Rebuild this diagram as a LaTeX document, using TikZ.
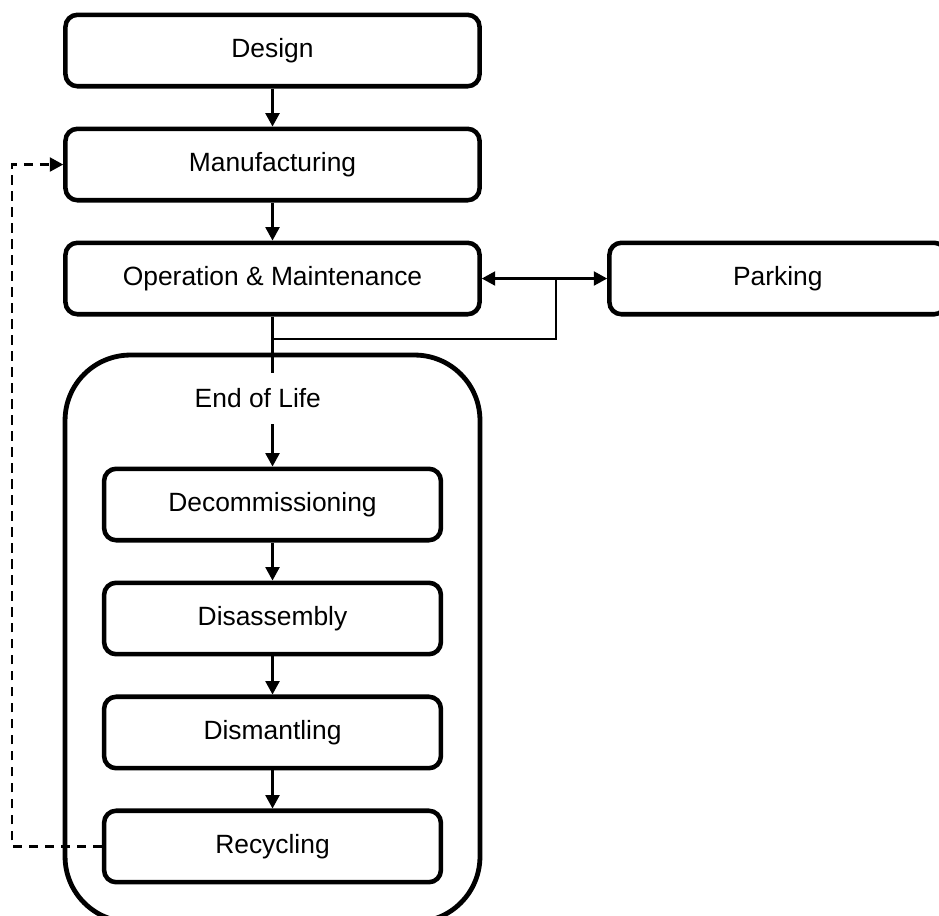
\documentclass[tikz,border=0pt]{standalone}
\usepackage{fontspec}
\setmainfont{Liberation Sans}
\usetikzlibrary{positioning,calc,arrows.meta}

\begin{document}
\begin{tikzpicture}[
	% --- sizes ---
	node distance=28.5pt,
	every node/.style={font=\fontsize{19.8pt}{24pt}\selectfont},
	% Style for the stage boxes
	stage/.style={
		rectangle, draw, line width=3.4pt, rounded corners=9pt,
		minimum width=310.6pt, minimum height=53.6pt, inner sep=0pt
	},
	substage/.style={stage, minimum width=252.6pt},
	% Label of the end-of-life group
	eoltext/.style={inner sep=0pt, minimum height=38pt},
	flow/.style={draw, line width=1.6pt, -{Triangle[length=10pt,width=10.5pt]}},
	biflow/.style={flow, {Triangle[length=10pt,width=10.5pt]}-{Triangle[length=10pt,width=10.5pt]}},
	backflow/.style={flow, dash pattern=on 7pt off 5pt}
	]
	\clip (-204.4pt,37.9pt) rectangle (499.9pt,-648.4pt);
	% Main column
	\node[stage] (design) at (0,0) {Design};
	\node[stage, below=of design] (manuf) {Manufacturing};
	\node[stage, below=of manuf] (om) {Operation \& Maintenance};
	\node[substage, right=94pt of om] (park) {Parking};
	
	% End of life group
	\node[substage, below=112.5pt of om] (decom) {Decommissioning};
	\node[substage, below=of decom] (disas) {Disassembly};
	\node[substage, below=of disas] (disman) {Dismantling};
	\node[substage, below=of disman] (recyc) {Recycling};
	\node[eoltext] (eol) at ([xshift=-11pt,yshift=-61.5pt]om.south) {End of Life};
	\draw[line width=3.6pt, rounded corners=49pt] (-155.6pt,-228.4pt) rectangle (155.6pt,-653.6pt);
	
	% Connectors
	\draw[flow] (design) -- (manuf);
	\draw[flow] (manuf) -- (om);
	\draw[line width=1.6pt] (om.south) -- (om.south |- eol.north);
	\draw[flow] (om.south |- eol.south) -- (decom.north);
	\draw[flow] (decom) -- (disas);
	\draw[flow] (disas) -- (disman);
	\draw[flow] (disman) -- (recyc);
	\draw[biflow] (om) -- (park);
	\coordinate (split) at ($(om.east)!0.59!(park.west)$);
	\coordinate (tap) at ([yshift=-17pt]om.south);
	\draw[line width=1.1pt] (split) |- (tap);
	% Feedback from recycling
	\draw[backflow] (recyc.west) -- ++(-67.5pt,0) |- (manuf.west);
\end{tikzpicture}
\end{document}
